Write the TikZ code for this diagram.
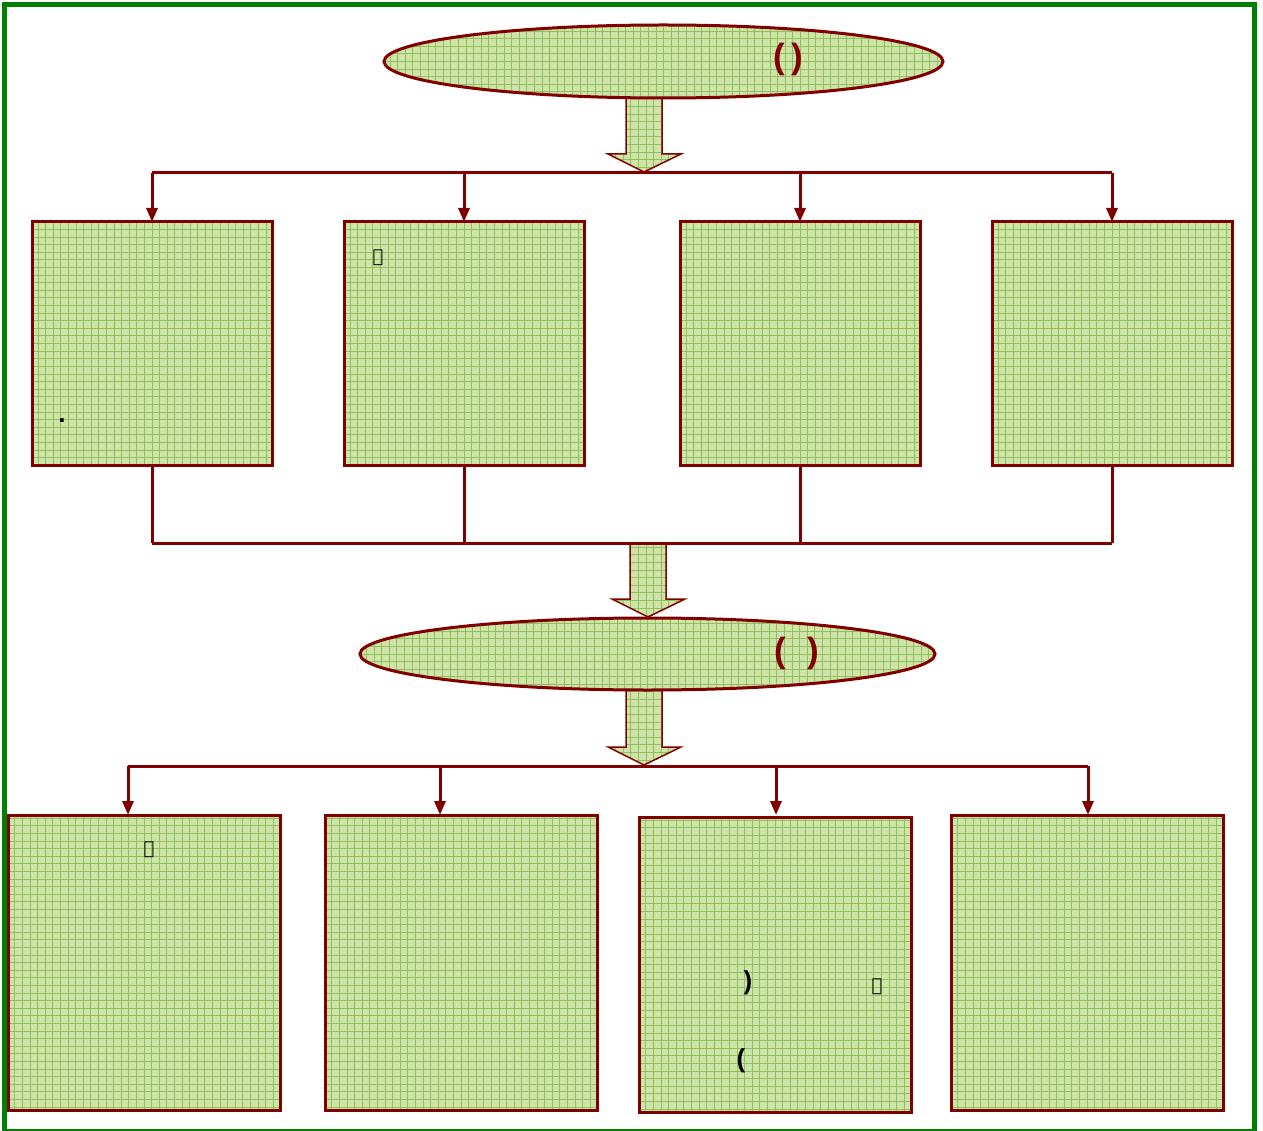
\documentclass[tikz,border=0pt]{standalone}
\usepackage{fontspec}
\setmainfont{Liberation Sans}
\newfontfamily\arabicfont[Script=Arabic]{DejaVu Sans}
\usetikzlibrary{shapes.geometric,arrows.meta}
\definecolor{dred}{RGB}{128,0,0}
\definecolor{gfill}{RGB}{206,228,170}
\definecolor{ggrid}{RGB}{146,192,88}
\definecolor{framegreen}{RGB}{0,128,0}
\begin{document}
\begin{tikzpicture}[x=1pt,y=-1pt,
  tex/.style={path picture={
     \fill[gfill] (path picture bounding box.south west) rectangle (path picture bounding box.north east);
     \draw[ggrid, line width=0.8pt, step=7.6pt] (path picture bounding box.south west) grid (path picture bounding box.north east);}},
  box/.style={tex, draw=dred, line width=3pt, inner sep=0pt, outer sep=0pt, anchor=north west},
  boxA/.style={box, minimum width=240pt, minimum height=243pt},
  boxB/.style={box, minimum width=272pt, minimum height=295pt},
  oval/.style={ellipse, tex, draw=dred, line width=3pt, inner sep=0pt, outer sep=0pt},
  blockarrow/.style={tex, draw=dred, line width=1.5pt, line join=miter},
  conn/.style={draw=dred, line width=3pt},
  arr/.style={conn, -{Triangle[length=14pt,width=11pt]}},
  paren/.style={text=dred, font=\fontsize{35}{40}\selectfont\bfseries, inner sep=0pt},
  small/.style={font=\fontsize{26}{30}\selectfont\bfseries, inner sep=0pt},
  saw/.style={font=\arabicfont\fontsize{18}{20}\selectfont, inner sep=0pt}
]
\useasboundingbox (0,0) rectangle (1263,1131);
\fill[white] (0,0) rectangle (1263,1131);
\draw[framegreen, line width=5pt] (4.5,5) rectangle (1254.5,1131);

% block arrows (behind ovals)
\path[blockarrow] (626,90) -- (626,154) -- (608,154) -- (644,172) -- (681,154) -- (662,154) -- (662,90) -- cycle;
\path[blockarrow] (630,544) -- (630,599) -- (612,599) -- (648,617) -- (685,599) -- (666,599) -- (666,544) -- cycle;
\path[blockarrow] (626,682) -- (626,747) -- (608,747) -- (644,765) -- (681,747) -- (662,747) -- (662,682) -- cycle;

% ovals
\node[oval, minimum width=559pt, minimum height=73pt] (top) at (663.5,61.5) {};
\node[paren] (topt) at (788.5,59) {(\hspace{6pt})};
\node[oval, minimum width=575pt, minimum height=72pt] (mid) at (647.5,654) {};
\node[paren] (midt) at (797,653) {(\hspace{22pt})};

% row 1 boxes
\node[boxA] (b1) at (32,222) {};
\node[boxA] (b2) at (344,222) {};
\node[boxA] (b3) at (680,222) {};
\node[boxA] (b4) at (992,222) {};
% row 2 boxes
\node[boxB] (c1) at (8,815) {};
\node[boxB] (c2) at (325,815) {};
\node[boxB] (c3) at (639,817) {};
\node[boxB] (c4) at (951,815) {};

% buses
\coordinate (busA) at (152,173);
\coordinate (busAe) at (1112,173);
\coordinate (busB) at (152,543);
\coordinate (busBe) at (1112,543);
\coordinate (busC1) at (128,766);
\coordinate (busC2) at (440,766);
\coordinate (busC3) at (776,766);
\coordinate (busC4) at (1088,766);
\draw[conn] (busA) -- (busAe);
\draw[conn] (busB) -- (busBe);
\draw[conn] (busC1) -- (busC4);
\foreach \b in {b1,b2,b3,b4}{
  \draw[arr] (\b.north |- busA) -- (\b.north);
  \draw[conn] (\b.south) -- (\b.south |- busB);
}
\draw[arr] (busC1) -- (busC1 |- c1.north);
\draw[arr] (busC2) -- (busC2 |- c2.north);
\draw[arr] (busC3) -- (busC3 |- c1.north);
\draw[arr] (busC4) -- (busC4 |- c4.north);

% texts
\node[saw] (s1) at (378,258) {ﷺ};
\node[small] (d1) at (62,421) {.};
\node[saw] (s2) at (149,850) {ﷺ};
\node[small] (p1) at (748,983) {)};
\node[saw] (s3) at (877,987) {ﷺ};
\node[small] (p2) at (741,1061) {(};
\end{tikzpicture}
\end{document}
